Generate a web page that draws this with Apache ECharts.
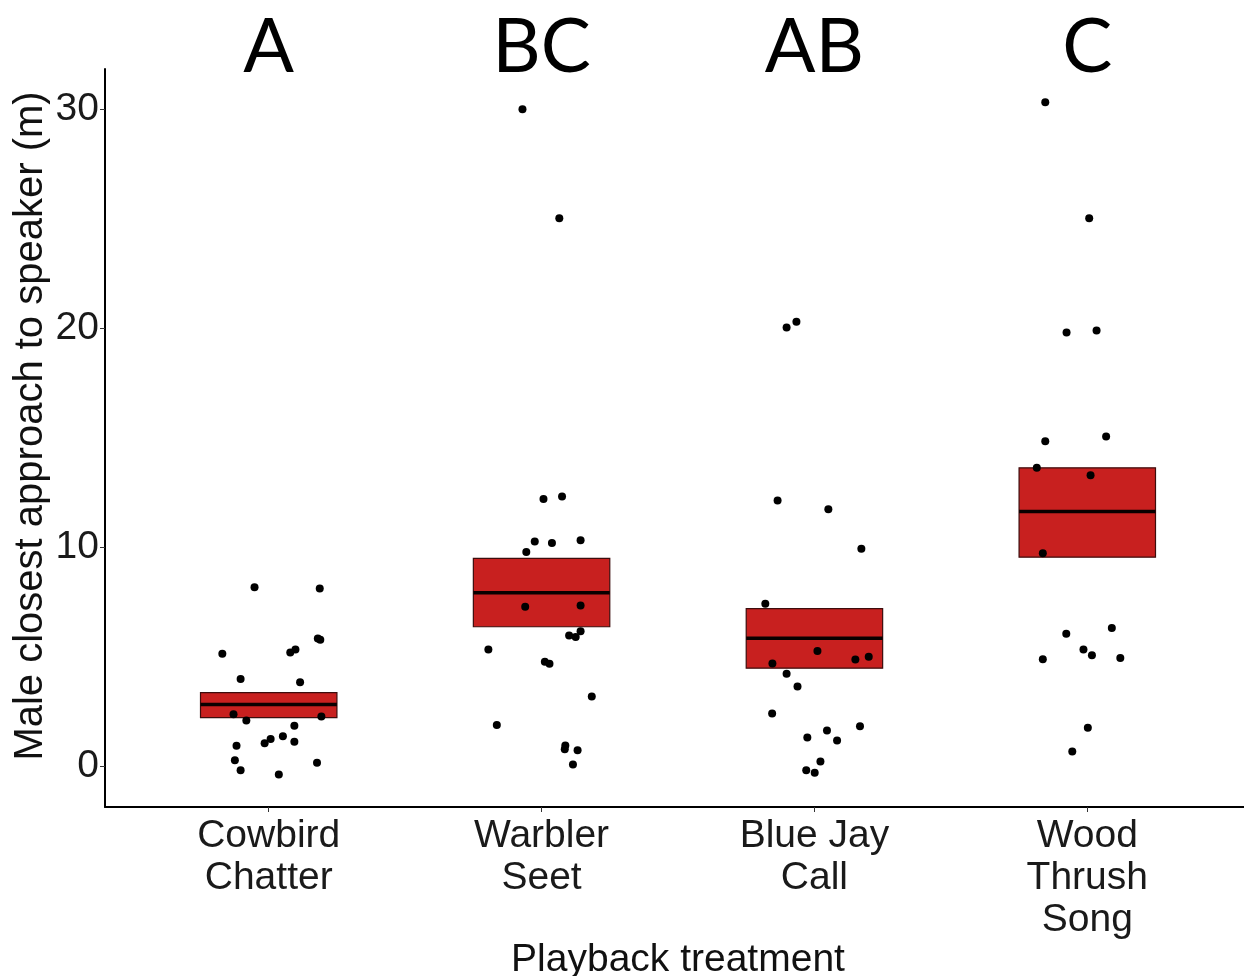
<!DOCTYPE html>
<html>
<head>
<meta charset="utf-8">
<script src="https://cdn.jsdelivr.net/npm/echarts@6/dist/echarts.min.js"></script>
<style>
  html, body { margin: 0; padding: 0; background: #ffffff; }
  #chart { width: 1244px; height: 976px; }
</style>
</head>
<body>
<div id="chart"></div>
<script>
// Playback treatments (x categories) and the significance letters above them
const categories = ['Cowbird\nChatter', 'Warbler\nSeet', 'Blue Jay\nCall', 'Wood\nThrush\nSong'];
const groupLetters = ['A', 'BC', 'AB', 'C'];
const yTicks = [0, 10, 20, 30];

// Crossbar summaries: lower edge, centre line, upper edge (m)
const boxLow  = [2.23, 6.38, 4.49, 9.56];
const boxMid  = [2.83, 7.93, 5.86, 11.64];
const boxHigh = [3.37, 9.50, 7.21, 13.64];

// Individual trials: closest approach (m) and horizontal jitter within each group
const cowbirdValues = [8.19, 8.13, 5.84, 5.79, 5.15, 5.21, 5.34, 3.99, 3.85, 2.39, 2.10, 2.28, 1.86, 0.95, 1.06, 1.26, 1.38, 1.13, 0.29, -0.17, -0.37, 0.17];
const cowbirdJitter = [-0.052, 0.187, 0.180, 0.189, -0.170, 0.079, 0.098, -0.103, 0.115, -0.129, -0.082, 0.193, 0.094, -0.118, -0.015, 0.007, 0.052, 0.094, -0.124, -0.103, 0.037, 0.177];

const warblerValues = [30.01, 25.04, 12.21, 12.33, 10.27, 10.21, 10.33, 9.80, 7.29, 7.35, 6.18, 5.98, 5.91, 5.34, 4.78, 4.69, 3.20, 1.90, 0.96, 0.79, 0.74, 0.09];
const warblerJitter = [-0.070, 0.065, 0.007, 0.075, -0.025, 0.038, 0.143, -0.056, -0.060, 0.143, 0.143, 0.101, 0.125, -0.195, 0.012, 0.029, 0.184, -0.164, 0.087, 0.085, 0.132, 0.115];

const blueJayValues = [20.05, 20.31, 12.15, 11.75, 9.94, 7.43, 5.27, 4.89, 5.01, 4.70, 4.23, 3.65, 2.42, 1.84, 1.32, 1.64, 1.19, 0.23, -0.17, -0.29];
const blueJayJitter = [-0.102, -0.066, -0.135, 0.051, 0.172, -0.180, 0.011, 0.150, 0.199, -0.154, -0.102, -0.062, -0.155, 0.167, -0.026, 0.046, 0.083, 0.022, -0.030, 0.001];

const thrushValues = [30.33, 25.04, 19.82, 19.91, 14.85, 15.07, 13.64, 13.30, 9.74, 6.06, 6.32, 5.34, 5.08, 4.90, 4.95, 1.77, 0.68];
const thrushJitter = [-0.154, 0.007, -0.076, 0.034, -0.154, 0.069, -0.185, 0.012, -0.163, -0.077, 0.090, -0.014, 0.017, -0.163, 0.121, 0.002, -0.055];

const groupValues = [cowbirdValues, warblerValues, blueJayValues, thrushValues];
const groupJitter = [cowbirdJitter, warblerJitter, blueJayJitter, thrushJitter];

const pointData = [];
groupValues.forEach(function (vals, g) {
  vals.forEach(function (v, k) {
    pointData.push([g + 1 + groupJitter[g][k], v]);
  });
});

const boxData = categories.map(function (c, i) {
  return [i + 1, boxLow[i], boxMid[i], boxHigh[i]];
});

const FONT = '"Liberation Sans", Arial, sans-serif';
const HALF_WIDTH = 0.25;

const chart = echarts.init(document.getElementById('chart'), null, { renderer: 'canvas' });

chart.setOption({
  backgroundColor: '#ffffff',
  animation: false,
  grid: { left: 105, right: -7, top: 69, bottom: 169, containLabel: false, outerBoundsMode: 'none' },
  xAxis: {
    type: 'value',
    min: 0.4,
    max: 4.6,
    name: 'Playback treatment',
    nameLocation: 'middle',
    nameGap: 134,
    nameMoveOverlap: false,
    nameTextStyle: { fontFamily: FONT, fontSize: 39, color: '#111' },
    axisLine: { show: true, onZero: false, lineStyle: { color: '#000', width: 2 } },
    axisTick: { show: true, length: 5, customValues: [1, 2, 3, 4], lineStyle: { color: '#333', width: 1 } },
    axisLabel: {
      show: true,
      customValues: [1, 2, 3, 4],
      formatter: function (v) { return categories[Math.round(v) - 1] || ''; },
      fontFamily: FONT, fontSize: 39, color: '#1a1a1a', lineHeight: 42, margin: 8
    },
    splitLine: { show: false }
  },
  yAxis: {
    type: 'value',
    min: -1.85,
    max: 31.85,
    name: 'Male closest approach to speaker (m)',
    nameLocation: 'middle',
    nameGap: 54,
    nameMoveOverlap: false,
    nameTextStyle: { fontFamily: FONT, fontSize: 40, color: '#111', padding: [0, 0, 0, 24] },
    axisLine: { show: true, onZero: false, lineStyle: { color: '#000', width: 2 } },
    axisTick: { show: true, length: 5, customValues: yTicks, lineStyle: { color: '#333', width: 1 } },
    axisLabel: {
      show: true,
      customValues: yTicks,
      fontFamily: FONT, fontSize: 39, color: '#1a1a1a', margin: 6
    },
    splitLine: { show: false }
  },
  series: [
    {
      type: 'custom',
      name: 'crossbar',
      z: 2,
      data: boxData,
      renderItem: function (params, api) {
        const x = api.value(0);
        const tl = api.coord([x - HALF_WIDTH, api.value(3)]);
        const br = api.coord([x + HALF_WIDTH, api.value(1)]);
        const ml = api.coord([x - HALF_WIDTH, api.value(2)]);
        const mr = api.coord([x + HALF_WIDTH, api.value(2)]);
        return {
          type: 'group',
          children: [
            {
              type: 'rect',
              shape: { x: tl[0], y: tl[1], width: br[0] - tl[0], height: br[1] - tl[1] },
              style: { fill: '#C8201F', stroke: '#3d0d0d', lineWidth: 1.2 }
            },
            {
              type: 'line',
              shape: { x1: ml[0], y1: ml[1], x2: mr[0], y2: mr[1] },
              style: { stroke: '#0a0000', lineWidth: 3.5 }
            }
          ]
        };
      }
    },
    {
      type: 'scatter',
      name: 'trials',
      z: 3,
      symbol: 'circle',
      symbolSize: 8,
      itemStyle: { color: '#000000', opacity: 1 },
      data: pointData
    }
  ]
});

// Significance letters centred above each treatment
const letterGraphics = groupLetters.map(function (t, i) {
  const p = chart.convertToPixel({ xAxisIndex: 0, yAxisIndex: 0 }, [i + 1, 0]);
  return {
    type: 'text',
    x: p[0],
    y: 48,
    style: {
      text: t,
      fontFamily: 'Lato, "Open Sans", sans-serif',
      fontSize: 75,
      fill: '#000',
      align: 'center',
      verticalAlign: 'middle'
    }
  };
});
chart.setOption({ graphic: letterGraphics });
</script>
</body>
</html>
